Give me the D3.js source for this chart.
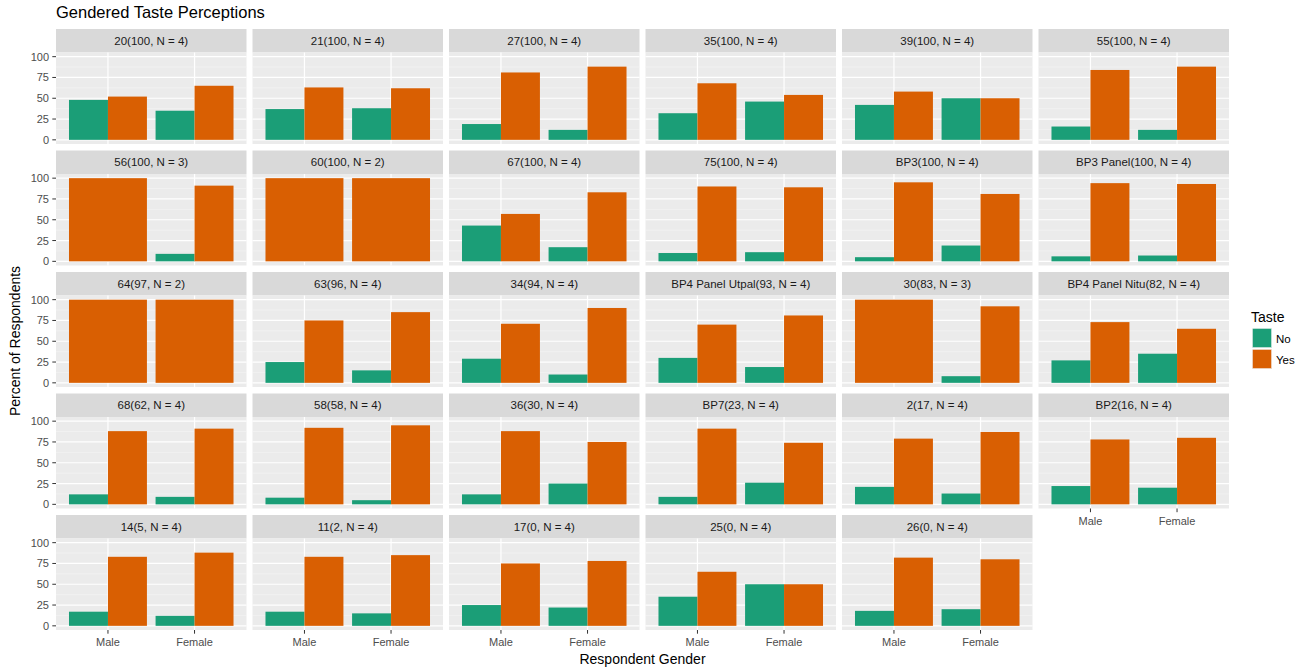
<!DOCTYPE html>
<html>
<head>
<meta charset="utf-8">
<script src="https://cdn.jsdelivr.net/npm/d3@7"></script>
<style>
  html, body { margin: 0; padding: 0; background: #fff; }
  svg { display: block; font-family: "Liberation Sans", Arial, sans-serif; }
</style>
</head>
<body>
<svg id="chart" width="1307" height="669"></svg>
<script>
// Panel labels (facet strips), in display order
const panels = [
  "20(100, N = 4)", "21(100, N = 4)", "27(100, N = 4)", "35(100, N = 4)", "39(100, N = 4)", "55(100, N = 4)",
  "56(100, N = 3)", "60(100, N = 2)", "67(100, N = 4)", "75(100, N = 4)", "BP3(100, N = 4)", "BP3 Panel(100, N = 4)",
  "64(97, N = 2)", "63(96, N = 4)", "34(94, N = 4)", "BP4 Panel Utpal(93, N = 4)", "30(83, N = 3)", "BP4 Panel Nitu(82, N = 4)",
  "68(62, N = 4)", "58(58, N = 4)", "36(30, N = 4)", "BP7(23, N = 4)", "2(17, N = 4)", "BP2(16, N = 4)",
  "14(5, N = 4)", "11(2, N = 4)", "17(0, N = 4)", "25(0, N = 4)", "26(0, N = 4)"
];
const genders = ["Male", "Female"];
const tastes = ["No", "Yes"];

// Percent of respondents per panel (0 = no respondents in that group)
const noMale    = [48, 37, 19, 32, 42, 16,  0,   0, 43, 10,  5,  6,  0, 25, 29, 30,  0, 27, 12,  8, 12,  9, 21, 22, 17, 17, 25, 35, 18];
const yesMale   = [52, 63, 81, 68, 58, 84, 100, 100, 57, 90, 95, 94, 100, 75, 71, 70, 100, 73, 88, 92, 88, 91, 79, 78, 83, 83, 75, 65, 82];
const noFemale  = [35, 38, 12, 46, 50, 12,  9,   0, 17, 11, 19,  7,  0, 15, 10, 19,  8, 35,  9,  5, 25, 26, 13, 20, 12, 15, 22, 50, 20];
const yesFemale = [65, 62, 88, 54, 50, 88, 91, 100, 83, 89, 81, 93, 100, 85, 90, 81, 92, 65, 91, 95, 75, 74, 87, 80, 88, 85, 78, 50, 80];

const yTicks = [0, 25, 50, 75, 100];
const yMinor = [12.5, 37.5, 62.5, 87.5];

const colors = { No: "#1B9E77", Yes: "#D95F02" };

// Layout of the facet grid
const nCol = 6;
const gridLeft = 56, gridRight = 1229, gridTop = 29;
const hGap = 6, vGap = 6.5;
const stripH = 23.5, panelH = 91.5;
const panelW = (gridRight - gridLeft - (nCol - 1) * hGap) / nCol;
const rowPitch = stripH + panelH + vGap;

const svg = d3.select("#chart");

const x = d3.scaleLinear().domain([0.4, 2.6]).range([0, panelW]);
const y = d3.scaleLinear().domain([-5, 105]).range([panelH, 0]);
const xAxisPos = d3.scaleOrdinal().domain(genders).range([1, 2]);
const dodgeWidth = 0.9;

const nRows = Math.ceil(panels.length / nCol);

panels.forEach((label, i) => {
  const col = i % nCol, row = Math.floor(i / nCol);
  const px = gridLeft + col * (panelW + hGap);
  const py = gridTop + row * rowPitch;
  const g = svg.append("g").attr("transform", `translate(${px},${py})`);

  // strip
  g.append("rect").attr("width", panelW).attr("height", stripH).attr("fill", "#D9D9D9");
  g.append("text")
    .attr("x", panelW / 2).attr("y", stripH / 2 + 4)
    .attr("text-anchor", "middle")
    .attr("font-size", 11.5).attr("fill", "#1A1A1A")
    .text(label);

  const p = g.append("g").attr("transform", `translate(0,${stripH})`);
  p.append("rect").attr("width", panelW).attr("height", panelH).attr("fill", "#EBEBEB");

  // minor gridlines
  p.selectAll("line.minor").data(yMinor).join("line")
    .attr("x1", 0).attr("x2", panelW)
    .attr("y1", d => y(d)).attr("y2", d => y(d))
    .attr("stroke", "#F5F5F5").attr("stroke-width", 0.6);
  // major gridlines
  p.selectAll("line.majorY").data(yTicks).join("line")
    .attr("x1", 0).attr("x2", panelW)
    .attr("y1", d => y(d)).attr("y2", d => y(d))
    .attr("stroke", "#fff").attr("stroke-width", 1.2);
  p.selectAll("line.majorX").data(genders).join("line")
    .attr("x1", d => x(xAxisPos(d))).attr("x2", d => x(xAxisPos(d)))
    .attr("y1", 0).attr("y2", panelH)
    .attr("stroke", "#fff").attr("stroke-width", 1.2);

  // bars, dodged within each gender; a lone group fills the whole dodge width
  const byGender = {
    Male: [{ taste: "No", v: noMale[i] }, { taste: "Yes", v: yesMale[i] }],
    Female: [{ taste: "No", v: noFemale[i] }, { taste: "Yes", v: yesFemale[i] }]
  };
  const bars = [];
  genders.forEach(gd => {
    const present = byGender[gd].filter(d => d.v > 0);
    const w = dodgeWidth / present.length;
    present.forEach((d, k) => {
      const x0 = xAxisPos(gd) - dodgeWidth / 2 + k * w;
      bars.push({ gender: gd, taste: d.taste, v: d.v, x0: x0, x1: x0 + w });
    });
  });
  p.selectAll("rect.bar").data(bars).join("rect")
    .attr("class", "bar")
    .attr("x", d => x(d.x0))
    .attr("width", d => x(d.x1) - x(d.x0))
    .attr("y", d => y(d.v))
    .attr("height", d => y(0) - y(d.v))
    .attr("fill", d => colors[d.taste]);

  // y axis on first column
  if (col === 0) {
    const ya = p.append("g");
    yTicks.forEach(t => {
      ya.append("line").attr("x1", -3.7).attr("x2", 0)
        .attr("y1", y(t)).attr("y2", y(t)).attr("stroke", "#333").attr("stroke-width", 1);
      ya.append("text").attr("x", -7).attr("y", y(t) + 4)
        .attr("text-anchor", "end").attr("font-size", 11).attr("fill", "#4D4D4D")
        .text(t);
    });
  }

  // x axis on the bottom panel of each column
  const lastRowForCol = (row === nRows - 1) || (i + nCol >= panels.length);
  if (lastRowForCol) {
    const xa = p.append("g").attr("transform", `translate(0,${panelH})`);
    genders.forEach(gd => {
      const cx = x(xAxisPos(gd));
      xa.append("line").attr("x1", cx).attr("x2", cx).attr("y1", 0).attr("y2", 3.7)
        .attr("stroke", "#333").attr("stroke-width", 1);
      xa.append("text").attr("x", cx).attr("y", 16)
        .attr("text-anchor", "middle").attr("font-size", 11).attr("fill", "#4D4D4D")
        .text(gd);
    });
  }
});

// title
svg.append("text").attr("x", 56).attr("y", 18)
  .attr("font-size", 16.5).attr("fill", "#000")
  .text("Gendered Taste Perceptions");

// axis titles
svg.append("text")
  .attr("x", (gridLeft + gridRight) / 2).attr("y", 664)
  .attr("text-anchor", "middle").attr("font-size", 14).attr("fill", "#000")
  .text("Respondent Gender");
svg.append("text")
  .attr("transform", `translate(20,341) rotate(-90)`)
  .attr("text-anchor", "middle").attr("font-size", 14).attr("fill", "#000")
  .text("Percent of Respondents");

// legend
const lg = svg.append("g").attr("transform", "translate(1251,0)");
lg.append("text").attr("x", 0).attr("y", 322).attr("font-size", 14).attr("fill", "#000").text("Taste");
tastes.forEach((t, k) => {
  const ky = 328 + k * 21;
  lg.append("rect").attr("x", 1).attr("y", ky).attr("width", 20).attr("height", 20).attr("fill", "#F2F2F2");
  lg.append("rect").attr("x", 1.5).attr("y", ky + 0.5).attr("width", 19).attr("height", 19)
    .attr("fill", colors[t]).attr("stroke", "#F2F2F2").attr("stroke-width", 0.5);
  lg.append("text").attr("x", 25).attr("y", ky + 15).attr("font-size", 11.5).attr("fill", "#000").text(t);
});
</script>
</body>
</html>
